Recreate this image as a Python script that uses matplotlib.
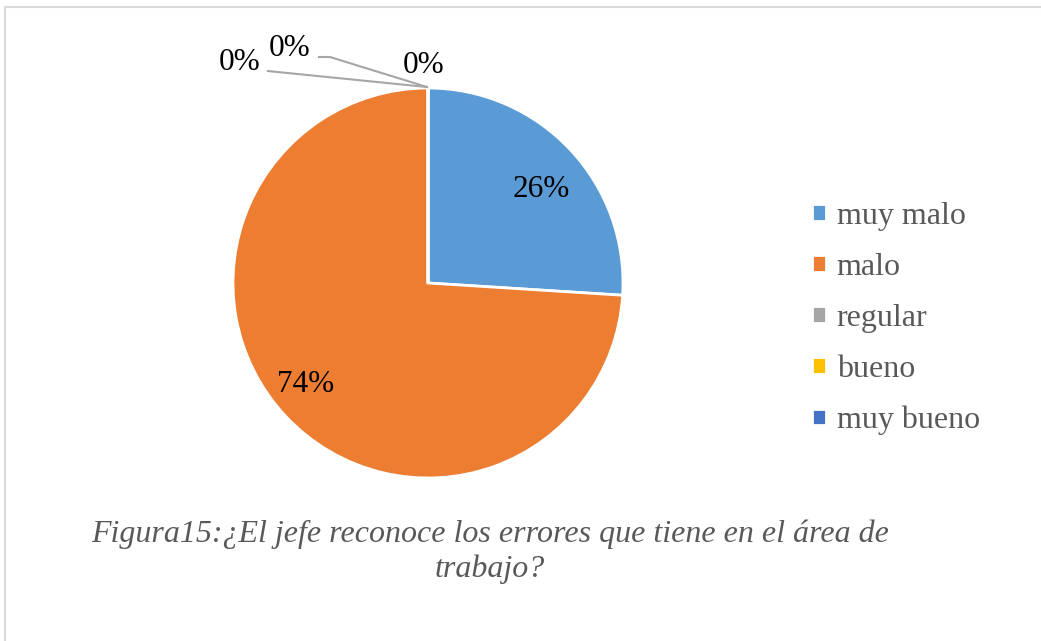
import matplotlib
matplotlib.use("Agg")
import matplotlib.pyplot as plt
from matplotlib.patches import Rectangle

categories = ["muy malo", "malo", "regular", "bueno", "muy bueno"]
values = [26, 74, 0, 0, 0]
colors = ["#5B9BD5", "#ED7D31", "#A5A5A5", "#FFC000", "#4472C4"]
caption = "Figura15:¿El jefe reconoce los errores que tiene en el área de\ntrabajo?"

W, H = 1041, 641
fig = plt.figure(figsize=(W / 100, H / 100), dpi=100)
plt.rcParams['font.family'] = ['Liberation Serif', 'DejaVu Serif']

cx, cy, R = 428, 283, 195
half = 200
ax = fig.add_axes([(cx - half) / W, (H - cy - half) / H, 2 * half / W, 2 * half / H])

wedges, _ = ax.pie(values, colors=colors, startangle=90, counterclock=False,
                   radius=1.0, wedgeprops=dict(edgecolor='white', linewidth=2))
lim = half / R
ax.set_xlim(-lim, lim)
ax.set_ylim(-lim, lim)
ax.set_aspect('equal')
ax.axis('off')

total = sum(values)
pct = [f"{round(v * 100 / total)}%" for v in values]

# label positions (data coords of pie axes)
label_pos = [(0.579, 0.477), (-0.626, -0.518), (-0.02, 1.113), (-0.708, 1.205), (-0.964, 1.133)]
for i, (x, y) in enumerate(label_pos):
    ax.text(x, y, pct[i], ha='center', va='center', fontsize=22.5, color='black', clip_on=False)

# leader lines
ax.plot([-0.821, -0.005], [1.087, 1.005], color='#A6A6A6', lw=1.5, clip_on=False)
ax.plot([-0.559, -0.503, -0.005], [1.159, 1.159, 1.005], color='#A6A6A6', lw=1.5, clip_on=False)

leg = fig.legend(wedges, categories, loc='center left',
                 bbox_to_anchor=(812 / W, (H - 318.5) / H), frameon=False,
                 fontsize=23, handlelength=0.43, handleheight=0.43,
                 handletextpad=0.34, labelspacing=0.69, borderpad=0, borderaxespad=0)
for t in leg.get_texts():
    t.set_color('#595959')

fig.text(490 / W, (H - 552) / H, caption, ha='center', va='center', fontsize=23,
         style='italic', color='#595959', linespacing=1.26)

fig.patches.append(Rectangle((5 / W, -0.1), 1.2, (H - 7) / H + 0.1, transform=fig.transFigure,
                             fill=False, edgecolor='#D9D9D9', lw=1.5))

fig.savefig("out.png", dpi=100)
